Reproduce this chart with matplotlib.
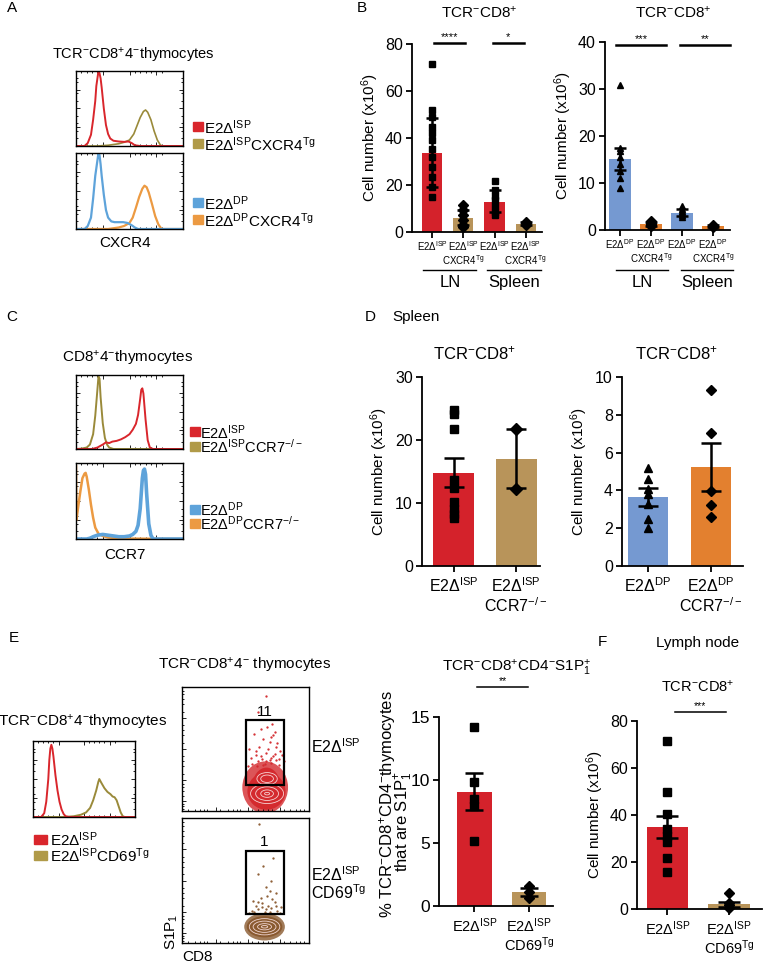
import matplotlib
matplotlib.use('Agg')
import matplotlib.pyplot as plt
from matplotlib.patches import Rectangle, Ellipse
from matplotlib.ticker import FixedLocator

plt.rcParams['font.family'] = ['Liberation Sans', 'DejaVu Sans']
plt.rcParams['mathtext.fontset'] = 'custom'
plt.rcParams['mathtext.rm'] = 'Liberation Sans'
plt.rcParams['mathtext.it'] = 'Liberation Sans:italic'
plt.rcParams['mathtext.bf'] = 'Liberation Sans:bold'
plt.rcParams['mathtext.sf'] = 'Liberation Sans'

W, H = 763, 963
RED = '#d4222b'
TAN = '#b8945a'
BLUE = '#7599d1'
ORANGE = '#e3802f'
H_RED = '#d9262c'
H_OLIVE = '#9a8a3a'
H_BLUE = '#5ea3da'
H_ORANGE = '#ec9a42'
L_TAN = '#b09a48'
BROWN = '#8a5a30'

ISP = r'E2Δ$^{\rm ISP}$'
DP = r'E2Δ$^{\rm DP}$'
TCR8 = r'TCR$^{-}$CD8$^{+}$'

# ---------------- data ----------------
# A: CXCR4 histograms (fraction of x range, relative height)
a_isp_x = [0, .08, .11, .14, .16, .18, .19, .20, .21, .22, .23, .24, .26, .28, .30, .32, .35, .40, .45, .49, .52, .55, .60, 1.0]
a_isp_y = [0, 0, .04, .15, .35, .6, .8, .9, 1.0, .97, .9, .78, .5, .28, .16, .1, .07, .06, .055, .06, .04, .01, 0, 0]
a_isptg_x = [0, .2, .3, .4, .45, .5, .54, .57, .6, .63, .65, .67, .7, .73, .76, .79, .82, 1]
a_isptg_y = [0, 0, .01, .03, .05, .08, .16, .27, .38, .46, .48, .45, .35, .2, .08, .01, 0, 0]
a_dp_x = [0, .08, .11, .14, .16, .18, .2, .21, .22, .23, .24, .26, .28, .3, .33, .36, .4, .44, .48, .52, .55, .58, 1]
a_dp_y = [0, 0, .04, .15, .4, .7, .9, 1.0, .97, .85, .7, .45, .25, .15, .1, .09, .09, .09, .08, .05, .02, 0, 0]
a_dptg_x = [0, .3, .4, .45, .5, .53, .56, .59, .62, .64, .66, .68, .71, .74, .77, .8, 1]
a_dptg_y = [0, 0, .02, .04, .08, .15, .28, .42, .53, .57, .55, .48, .33, .17, .06, 0, 0]

# B: cell numbers, LN / spleen
b1_means = [33.8, 6.1, 12.8, 3.55]
b1_hi = [48.7, 9.3, 17.8, 4.2]
b1_lo = [19.2, 2.9, 8.5, 3.0]
b1_pts = [[71.4, 51.8, 49, 44.8, 42, 39, 35.5, 32, 27.7, 23.4, 19.2, 14.9],
          [11.4, 9.2, 7.1, 5.0, 2.8, 2.1],
          [21.7, 17.8, 15.5, 13.5, 11, 8.5, 7.1],
          [4.3, 3.8, 3.1]]
b1_ticklabels = [ISP, ISP + '\nCXCR4$^{\\rm Tg}$', ISP, ISP + '\nCXCR4$^{\\rm Tg}$']
b2_means = [15.1, 1.2, 3.7, 0.8]
b2_hi = [17.5, 1.6, 4.4, 1.0]
b2_lo = [12.7, 0.8, 3.0, 0.6]
b2_pts = [[30.8, 17.5, 16.8, 15.5, 14, 12.5, 11, 9],
          [1.9, 1.5, 1.2, 1.0, 0.8],
          [5.0, 4.5, 4.0, 3.6, 3.2, 2.7],
          [1.1, 0.85, 0.6]]
b2_ticklabels = [DP, DP + '\nCXCR4$^{\\rm Tg}$', DP, DP + '\nCXCR4$^{\\rm Tg}$']

# C: CCR7 histograms
c_isp_x = [0, .15, .2, .25, .28, .31, .34, .38, .42, .46, .5, .53, .56, .58, .6, .61, .62, .63, .65, .67, .69, .72, 1]
c_isp_y = [0, 0, .02, .06, .09, .08, .1, .11, .13, .16, .2, .26, .34, .46, .68, .8, .82, .75, .4, .12, .02, 0, 0]
c_ispko_x = [0, .05, .1, .13, .16, .18, .2, .21, .22, .23, .25, .27, .29, .31, .35, 1]
c_ispko_y = [0, .005, .02, .06, .2, .45, .8, .98, .95, .7, .35, .15, .06, .02, 0, 0]
c_dp_x = [0, .1, .13, .16, .2, .25, .3, .35, .4, .45, .5, .53, .56, .58, .6, .61, .62, .63, .64, .65, .66, .68, .7, .72, 1]
c_dp_y = [0, 0, .01, .03, .05, .06, .05, .04, .03, .03, .04, .06, .1, .18, .4, .6, .8, .9, .92, .85, .6, .2, .05, 0, 0]
c_dpko_x = [0, 0.004, .02, .04, .06, .08, .09, .1, .12, .14, .16, .18, .21, .25, .3, .4, .5, 1]
c_dpko_y = [.96, .25, .42, .62, .8, .86, .87, .82, .65, .45, .28, .15, .07, .04, .02, .01, .005, 0]

# D: spleen
d1_means = [14.8, 17.0]
d1_hi = [17.2, 21.7]
d1_lo = [12.6, 12.4]
d1_pts = [[24.7, 24.2, 21.7, 13.6, 12.4, 10.2, 9.0, 8.2, 7.6], [21.8, 12.3]]
d2_means = [3.64, 5.25]
d2_hi = [4.15, 6.51]
d2_lo = [3.2, 3.96]
d2_pts = [[5.2, 4.6, 4.1, 3.8, 3.3, 2.5, 2.0], [9.33, 7.04, 3.96, 3.22, 2.6]]

# E: histogram, contour plots, S1P1 bars
e_isp_x = [0, .08, .11, .13, .15, .16, .17, .18, .19, .2, .22, .24, .26, .28, .3, .32, .35, 1]
e_isp_y = [0, 0, .05, .2, .5, .75, .9, .95, .9, .8, .55, .35, .2, .1, .04, .01, 0, 0]
e_cd69_x = [0, .3, .4, .47, .52, .56, .59, .62, .64, .65, .67, .7, .73, .76, .78, .8, .82, .84, .86, .88, .9, 1]
e_cd69_y = [0, 0, .01, .03, .06, .12, .22, .35, .46, .5, .45, .38, .33, .3, .27, .26, .22, .14, .06, .01, 0, 0]

gate_pct = ['11', '1']
top_fill = [(.655, .19, .36, .42), (.665, .16, .3, .3), (.665, .2, .22, .3)]
top_rings = [(.67, .26, .16, .10), (.67, .26, .10, .06), (.67, .14, .26, .16),
             (.67, .14, .18, .11), (.67, .14, .10, .06), (.67, .14, .04, .02)]
top_dots_x = [.55, .6, .63, .7, .74, .58, .66, .72, .77, .53, .61, .68, .75, .64, .7,
              .57, .73, .79, .62, .67, .71, .59, .76, .65, .69, .6, .74, .66, .7, .72,
              .54, .62, .69, .76, .58, .66, .73, .8, .52, .64]
top_dots_y = [.38, .4, .42, .39, .41, .45, .47, .44, .48, .5, .52, .5, .55, .58, .6,
              .62, .64, .45, .66, .68, .7, .36, .37, .38, .56, .8, .52, .93, .43, .61,
              .43, .44, .41, .42, .48, .4, .46, .4, .36, .37]
bot_fill = [(.65, .13, .32, .22), (.65, .13, .28, .17)]
bot_rings = [(.65, .13, .24, .13), (.65, .13, .18, .09), (.65, .13, .11, .05), (.65, .13, .05, .02)]
bot_dots_x = [.55, .6, .65, .7, .75, .58, .63, .68, .73, .78, .62, .67, .71, .56, .74, .66, .7, .6, .64, .69, .72, .61,
              .53, .77, .66, .63, .57, .69, .74, .6]
bot_dots_y = [.26, .27, .25, .28, .26, .3, .32, .3, .33, .29, .36, .38, .35, .34, .4, .45, .5, .55, .62, .42, .68, .95,
              .24, .24, .27, .29, .25, .25, .3, .33]

e_means = [9.07, 1.08]
e_hi = [10.58, 1.4]
e_lo = [7.6, 0.8]
e_pts = [[14.2, 9.87, 8.47, 7.9, 5.19], [1.6, 1.1, 0.6]]

# F: lymph node
f_means = [34.75, 2.0]
f_hi = [39.6, 3.1]
f_lo = [30.2, 1.0]
f_pts = [[71.6, 49.9, 40.5, 34, 31, 28.5, 21.6, 15.6], [6.7, 2.5, 1.5, 0.5]]

# ---------------- helpers ----------------
fig = plt.figure(figsize=(W / 100, H / 100), dpi=100)


def ax_px(x0, y0, x1, y1):
    return fig.add_axes([x0 / W, 1 - y1 / H, (x1 - x0) / W, (y1 - y0) / H])


def ftext(x, y, s, **kw):
    kw.setdefault('ha', 'center')
    kw.setdefault('va', 'center')
    fig.text(x / W, 1 - y / H, s, **kw)


def fsquare(x0, yc, w, h, color):
    fig.add_artist(Rectangle((x0 / W, 1 - (yc + h / 2) / H), w / W, h / H,
                             color=color, transform=fig.transFigure))


def hist_axes(ax):
    ax.set_xlim(0, 1)
    ax.set_ylim(0, 1.0)
    for s in ax.spines.values():
        s.set_linewidth(1.0)
    ax.xaxis.set_major_locator(FixedLocator([.25, .5, .75]))
    ax.yaxis.set_major_locator(FixedLocator([.25, .5, .75]))
    ax.xaxis.set_minor_locator(FixedLocator([.05, .1, .15, .2, .55, .6, .65, .7, .8]))
    ax.yaxis.set_minor_locator(FixedLocator([.1, .2, .3, .4, .6, .7, .85, .9]))
    ax.tick_params(which='both', direction='in', top=True, right=True,
                   labelbottom=False, labelleft=False, width=0.6)
    ax.tick_params(which='major', length=3)
    ax.tick_params(which='minor', length=1.5)


def bar_panel(ax, means, hi, lo, pts, colors, markers, ylim, yticks, xlim, bw, capsize,
              ticklabels, tfs, ms=5.5, lsp=1.1, yfs=11.5, xpad=3):
    xs = list(range(len(means)))
    ax.bar(xs, means, width=bw, color=colors, zorder=1)
    for i in xs:
        ax.plot([i] * len(pts[i]), pts[i], linestyle='none', marker=markers[i],
                color='black', ms=ms, zorder=3, clip_on=False)
        ax.errorbar(i, means[i], yerr=[[means[i] - lo[i]], [hi[i] - means[i]]],
                    color='black', elinewidth=1.8, capsize=capsize, capthick=1.8, zorder=4)
    ax.set_xlim(*xlim)
    ax.set_ylim(*ylim)
    ax.set_yticks(yticks)
    ax.set_xticks(xs)
    ax.set_xticklabels(ticklabels, linespacing=lsp)
    for s in ['top', 'right']:
        ax.spines[s].set_visible(False)
    for s in ['left', 'bottom']:
        ax.spines[s].set_linewidth(1.3)
    ax.tick_params(width=1.3, length=4.5, pad=2)
    ax.tick_params(axis='y', labelsize=yfs)
    ax.tick_params(axis='x', labelsize=tfs, pad=xpad)


def sig(ax, x0, x1, y, txt, lw=1.8, fs=8):
    ax.plot([x0, x1], [y, y], color='black', lw=lw, clip_on=False)
    ax.annotate(txt, ((x0 + x1) / 2, y), xytext=(0, 0.5), textcoords='offset points',
                ha='center', va='bottom', fontsize=fs, annotation_clip=False)


def group_line(ax, x0, x1, y, label, ly, fs=12):
    tr = ax.get_xaxis_transform()
    ax.plot([x0, x1], [y, y], color='black', lw=1.0, transform=tr, clip_on=False)
    ax.text((x0 + x1) / 2, ly, label, transform=tr, ha='center', va='center', fontsize=fs)


# ---------------- A ----------------
ftext(12, 8, 'A', fontsize=11)
ftext(133, 55, r'TCR$^{-}$CD8$^{+}$4$^{-}$thymocytes', fontsize=10.5)
ax = ax_px(76, 71, 183, 146)
ax.plot(a_isptg_x, a_isptg_y, color=H_OLIVE, lw=1.2)
ax.plot(a_isp_x, a_isp_y, color=H_RED, lw=1.4)
hist_axes(ax)
ax = ax_px(76, 153, 183, 229)
ax.plot(a_dptg_x, a_dptg_y, color=H_ORANGE, lw=1.6)
ax.plot(a_dp_x, a_dp_y, color=H_BLUE, lw=1.6)
hist_axes(ax)
ftext(125, 243, 'CXCR4', fontsize=11)
for yc, col, lab in [(127, H_RED, ISP), (144, L_TAN, ISP + 'CXCR4$^{\\rm Tg}$'),
                     (203, H_BLUE, DP), (220, H_ORANGE, DP + 'CXCR4$^{\\rm Tg}$')]:
    fsquare(193, yc, 10, 9, col)
    ftext(204, yc + 1, lab, fontsize=11, ha='left')

# ---------------- B ----------------
ftext(362, 8, 'B', fontsize=11)
ax = ax_px(412, 44, 542, 232)
bar_panel(ax, b1_means, b1_hi, b1_lo, b1_pts, [RED, TAN, RED, TAN], ['s', 'D', 's', 'D'],
          (0, 80), [0, 20, 40, 60, 80], (-0.645, 3.52), 0.65, 4.3, b1_ticklabels, 7,
          ms=5, lsp=1.0, xpad=1)
ax.set_ylabel(r'Cell number (x10$^{6}$)', fontsize=11, labelpad=3)
sig(ax, 0.065, 1.06, 80.4, '****')
sig(ax, 1.94, 2.94, 80.4, '*')
group_line(ax, -0.29, 1.42, -0.202, 'LN', -0.27)
group_line(ax, 1.77, 3.48, -0.202, 'Spleen', -0.27)
ftext(479, 13, TCR8, fontsize=11)

ax = ax_px(605, 42, 730, 230)
bar_panel(ax, b2_means, b2_hi, b2_lo, b2_pts, [BLUE, ORANGE, BLUE, ORANGE], ['^', 'D', '^', 'D'],
          (0, 40), [0, 10, 20, 30, 40], (-0.484, 3.548), 0.68, 4.3, b2_ticklabels, 7,
          ms=5, lsp=1.0, xpad=1)
ax.set_ylabel(r'Cell number (x10$^{6}$)', fontsize=11, labelpad=3)
sig(ax, -0.13, 1.48, 39.4, '***')
sig(ax, 1.94, 3.55, 39.4, '**')
group_line(ax, -0.13, 1.55, -0.213, 'LN', -0.28)
group_line(ax, 1.97, 3.65, -0.213, 'Spleen', -0.28)
ftext(673, 13, TCR8, fontsize=11)

# ---------------- C ----------------
ftext(12, 317, 'C', fontsize=11)
ftext(128, 358, r'CD8$^{+}$4$^{-}$thymocytes', fontsize=11)
ax = ax_px(76, 375, 183, 449)
ax.plot(c_ispko_x, c_ispko_y, color=H_OLIVE, lw=1.4)
ax.plot(c_isp_x, c_isp_y, color=H_RED, lw=1.4)
hist_axes(ax)
ax = ax_px(76, 463, 183, 539)
ax.plot(c_dpko_x, c_dpko_y, color=H_ORANGE, lw=1.8)
ax.plot(c_dp_x, c_dp_y, color=H_BLUE, lw=2.6)
hist_axes(ax)
ftext(125, 555, 'CCR7', fontsize=11)
for yc, col, lab in [(432, H_RED, ISP), (446, L_TAN, ISP + 'CCR7$^{-/-}$'),
                     (509, H_BLUE, DP), (523, H_ORANGE, DP + 'CCR7$^{-/-}$')]:
    fsquare(190, yc, 10, 9, col)
    ftext(200, yc + 1, lab, fontsize=10.5, ha='left')

# ---------------- D ----------------
ftext(370, 317, 'D', fontsize=11)
ftext(392, 317, 'Spleen', fontsize=11, ha='left')
ax = ax_px(422, 377, 540, 566)
bar_panel(ax, d1_means, d1_hi, d1_lo, d1_pts, [RED, TAN], ['s', 'D'],
          (0, 30), [0, 10, 20, 30], (-0.504, 1.384), 0.656, 7.5,
          [ISP, ISP + '\nCCR7$^{-/-}$'], 11.5, ms=6)
ax.set_ylabel(r'Cell number (x10$^{6}$)', fontsize=11, labelpad=4)
ftext(475, 353, TCR8, fontsize=12)
ax = ax_px(622, 377, 743, 566)
bar_panel(ax, d2_means, d2_hi, d2_lo, d2_pts, [BLUE, ORANGE], ['^', 'D'],
          (0, 10), [0, 2, 4, 6, 8, 10], (-0.413, 1.508), 0.65, 7.5,
          [DP, DP + '\nCCR7$^{-/-}$'], 11.5, ms=5.5)
ax.set_ylabel(r'Cell number (x10$^{6}$)', fontsize=11, labelpad=4)
ftext(677, 353, TCR8, fontsize=12)

# ---------------- E ----------------
ftext(14, 638, 'E', fontsize=11)
ftext(83, 723, r'TCR$^{-}$CD8$^{+}$4$^{-}$thymocytes', fontsize=11)
ax = ax_px(33, 741, 135, 817)
ax.plot(e_cd69_x, e_cd69_y, color=H_OLIVE, lw=1.4)
ax.plot(e_isp_x, e_isp_y, color=H_RED, lw=1.4)
hist_axes(ax)
for yc, col, lab in [(839, H_RED, ISP), (855, L_TAN, ISP + 'CD69$^{\\rm Tg}$')]:
    fsquare(34, yc, 13, 9, col)
    ftext(50, yc + 1, lab, fontsize=11, ha='left')

ftext(245, 665, r'TCR$^{-}$CD8$^{+}$4$^{-}$ thymocytes', fontsize=11)
for (y0, y1, col, fills, rings, dx, dy, g0, g1, pct) in [
        (687, 811, '#d42a2e', top_fill, top_rings, top_dots_x, top_dots_y, .21, .73, gate_pct[0]),
        (818, 943, BROWN, bot_fill, bot_rings, bot_dots_x, bot_dots_y, .23, .74, gate_pct[1])]:
    ax = ax_px(182, y0, 309, y1)
    ax.set_xlim(0, 1)
    ax.set_ylim(0, 1)
    for k, (cx, cy, w, h) in enumerate(fills):
        ax.add_patch(Ellipse((cx, cy), w, h, color=col, alpha=min(1.0, 0.8 + 0.2 * k), lw=0))
    for (cx, cy, w, h) in rings:
        ax.add_patch(Ellipse((cx, cy), w, h, fill=False, ec='#fbe3e3', lw=0.6, alpha=0.9))
    ax.plot(dx, dy, linestyle='none', marker='.', ms=1.3, color=col)
    ax.add_patch(Rectangle((0.50, g0), 0.30, g1 - g0, fill=False, ec='black', lw=1.6, zorder=5))
    ax.text(0.65, g1 + 0.01, pct, ha='center', va='bottom', fontsize=11)
    for s in ax.spines.values():
        s.set_linewidth(1.0)
    ax.xaxis.set_major_locator(FixedLocator([0.0, 0.27, 0.52, 0.77]))
    ax.yaxis.set_major_locator(FixedLocator([0.08, 0.25, 0.5, 0.75]))
    ax.xaxis.set_minor_locator(FixedLocator([.05, .1, .14, .17, .2, .3, .36, .4, .43, .46, .55,
                                             .6, .64, .68, .71, .8, .85, .9, .93, .96]))
    ax.yaxis.set_minor_locator(FixedLocator([.02, .04, .06, .12, .16, .19, .22, .3, .36, .4,
                                             .44, .55, .61, .65, .69, .8, .86, .9, .94, .97]))
    ax.tick_params(which='both', direction='in', labelbottom=False, labelleft=False, width=0.6)
    ax.tick_params(which='major', length=3)
    ax.tick_params(which='minor', length=1.5)
ftext(311, 747, ISP, fontsize=11.5, ha='left')
ftext(311, 875, ISP, fontsize=11.5, ha='left')
ftext(311, 893, r'CD69$^{\rm Tg}$', fontsize=11.5, ha='left')
ftext(172, 932, r'S1P$_{1}$', fontsize=11, rotation=90)
ftext(182, 957, 'CD8', fontsize=11, ha='left')

ax = ax_px(439, 717, 553, 906)
bar_panel(ax, e_means, e_hi, e_lo, e_pts, [RED, TAN], ['s', 'D'],
          (0, 15), [0, 5, 10, 15], (-0.651, 1.44), 0.64, 6.5,
          [ISP, ISP + '\nCD69$^{\\rm Tg}$'], 10.5, ms=5.5, lsp=1.0, yfs=12.5)
sig(ax, 0.046, 0.98, 17.4, '**', lw=1.1, fs=7.5)
ftext(517, 668, r'TCR$^{-}$CD8$^{+}$CD4$^{-}$S1P$_{1}^{+}$', fontsize=11)
ftext(387, 804, r'% TCR$^{-}$CD8$^{+}$CD4$^{-}$thymocytes', fontsize=12, rotation=90)
ftext(404, 822, r'that are S1P$_{1}^{+}$', fontsize=12, rotation=90)

# ---------------- F ----------------
ftext(602, 642, 'F', fontsize=11)
ftext(698, 643, 'Lymph node', fontsize=11)
ftext(698, 687, TCR8, fontsize=10.5)
ax = ax_px(637, 721, 762, 909)
bar_panel(ax, f_means, f_hi, f_lo, f_pts, [RED, TAN], ['s', 'D'],
          (0, 80), [0, 20, 40, 60, 80], (-0.496, 1.537), 0.67, 8,
          [ISP, ISP + '\nCD69$^{\\rm Tg}$'], 10.5, ms=5.5, lsp=1.0)
ax.set_ylabel(r'Cell number (x10$^{6}$)', fontsize=11, labelpad=3)
sig(ax, 0.12, 0.95, 83.8, '***', lw=1.1, fs=7.5)

fig.savefig('out.png', dpi=100)
